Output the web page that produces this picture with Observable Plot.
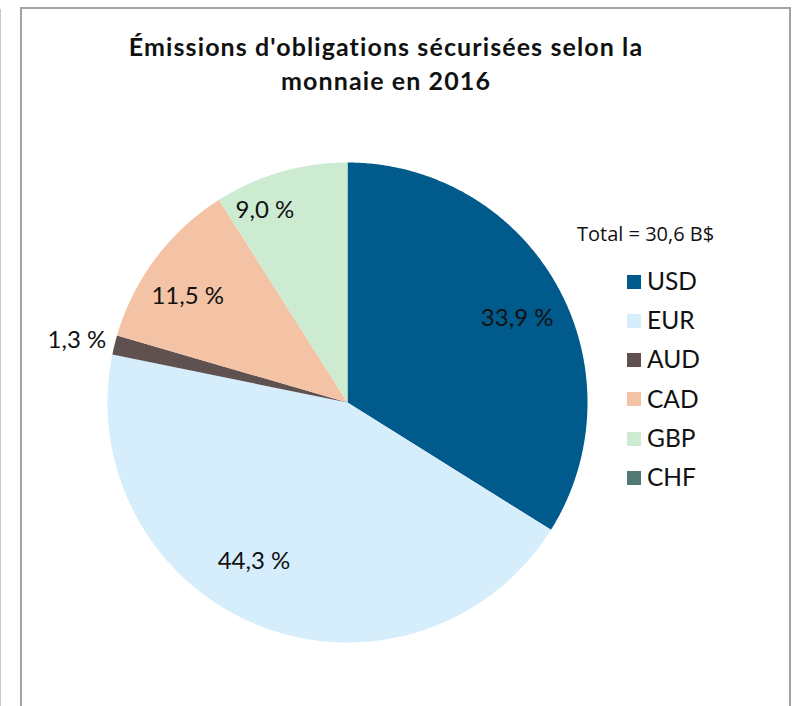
<!DOCTYPE html>
<html>
<head>
<meta charset="utf-8">
<script src="https://cdn.jsdelivr.net/npm/d3@7"></script>
<script src="https://cdn.jsdelivr.net/npm/@observablehq/plot@0.6"></script>
<style>
  html, body { margin: 0; padding: 0; background: #fff; }
  #wrap { position: relative; width: 793px; height: 706px; overflow: hidden; }
  #wrap svg { position: absolute; left: 0; top: 0; }
  .frame { position: absolute; left: 20px; top: 7px; width: 767px; height: 760px; border: 2px solid #a3a3a3; box-sizing: content-box; }
  .edge { position: absolute; left: 0; top: 9px; width: 1px; height: 760px; background: #c8c8c8; }
  .title { position: absolute; left: 0; width: 772px; text-align: center; font-family: Lato, sans-serif; font-weight: bold; font-size: 25px; letter-spacing: 1.1px; color: #111; white-space: nowrap; }
  .total { position: absolute; left: 577px; top: 220px; font-family: "Open Sans", sans-serif; font-size: 20px; color: #111; white-space: nowrap; }
  .leg { position: absolute; left: 627px; font-family: Lato, sans-serif; font-size: 24.5px; color: #111; white-space: nowrap; }
  .leg span.sw { display: inline-block; width: 14px; height: 14px; margin-right: 6px; vertical-align: middle; position: relative; top: -2px; }
</style>
</head>
<body>
<div id="wrap">
  <div class="edge"></div>
  <div class="frame"></div>
</div>
<script>
// ---- data ----
const titleLines = ["Émissions d'obligations sécurisées selon la", "monnaie en 2016"];
const totalLabel = "Total = 30,6 B$";
const currencies = ["USD", "EUR", "AUD", "CAD", "GBP", "CHF"];
const shares = [33.9, 44.3, 1.3, 11.5, 9.0, 0.0];
const shareLabels = ["33,9 %", "44,3 %", "1,3 %", "11,5 %", "9,0 %", ""];
const colors = ["#005a8c", "#d6eefc", "#5f5150", "#f4c2a5", "#ccebd1", "#527a74"];

// ---- layout: label nudges in pixels (best-fit placement) ----
const R = 240;
const labelNudge = {USD: [8, 5], EUR: [-25, -13], AUD: [-5, 3], CAD: [-12, 5], GBP: [-31, -15]};

// ---- build pie geometry (unit circle, clockwise from 12 o'clock) ----
const total = d3.sum(shares);
const pie = d3.pie().sort(null).value(d => d)(shares);
const arcPts = [];
const labels = [];
pie.forEach((p, i) => {
  if (shares[i] <= 0) return;
  const a0 = p.startAngle, a1 = p.endAngle;
  const n = Math.max(2, Math.ceil((a1 - a0) / (Math.PI / 360)));
  arcPts.push({c: currencies[i], x: 0, y: 0});
  for (let k = 0; k <= n; k++) {
    const a = a0 + (a1 - a0) * k / n;
    arcPts.push({c: currencies[i], x: Math.sin(a), y: Math.cos(a)});
  }
  arcPts.push({c: currencies[i], x: 0, y: 0});
  const mid = (a0 + a1) / 2;
  const r = shares[i] / total < 0.03 ? 1.14 : 0.77;
  const [ndx, ndy] = labelNudge[currencies[i]] || [0, 0];
  labels.push({c: currencies[i], t: shareLabels[i], x: r * Math.sin(mid) + ndx / R, y: r * Math.cos(mid) - ndy / R});
});

const chart = Plot.plot({
  width: 793,
  height: 706,
  margin: 0,
  style: {background: "transparent"},
  x: {domain: [-1, 1], range: [107, 587], axis: null},
  y: {domain: [-1, 1], range: [642, 162], axis: null},
  color: {type: "ordinal", domain: currencies, range: colors},
  marks: [
    Plot.line(arcPts, {x: "x", y: "y", z: "c", fill: "c", stroke: null, curve: "linear"}),
    Plot.text(labels, {x: "x", y: "y", text: "t", fontFamily: "Lato, sans-serif", fontSize: 24, fill: "#111"})
  ]
});

const wrap = document.getElementById("wrap");
wrap.appendChild(chart);

// title
titleLines.forEach((t, i) => {
  const d = document.createElement("div");
  d.className = "title";
  d.style.top = (31 + i * 34) + "px";
  d.textContent = t;
  wrap.appendChild(d);
});
// total
const tot = document.createElement("div");
tot.className = "total";
tot.textContent = totalLabel;
wrap.appendChild(tot);
// legend
currencies.forEach((c, i) => {
  const d = document.createElement("div");
  d.className = "leg";
  d.style.top = (266 + i * 39.2) + "px";
  d.innerHTML = `<span class="sw" style="background:${colors[i]}"></span>${c}`;
  wrap.appendChild(d);
});
</script>
</body>
</html>
